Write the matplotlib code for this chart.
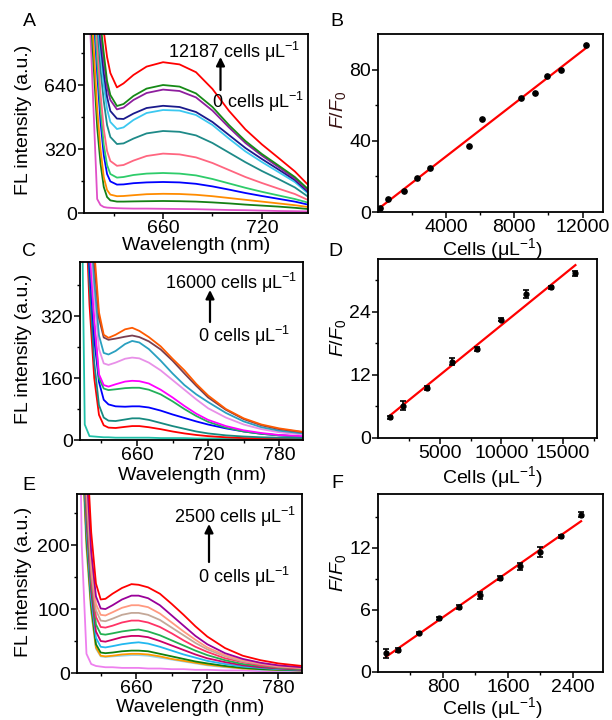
import matplotlib
matplotlib.use("Agg")
import matplotlib.pyplot as plt
import numpy as np
from matplotlib.ticker import FixedLocator

plt.rcParams['font.family'] = ['Liberation Sans', 'DejaVu Sans']
plt.rcParams['mathtext.fontset'] = 'custom'
plt.rcParams['mathtext.rm'] = 'Liberation Sans'
plt.rcParams['mathtext.it'] = 'Liberation Sans:italic'
plt.rcParams['mathtext.bf'] = 'Liberation Sans:bold'

# ---------------- Panel A spectra ----------------
wl_a = [612, 616, 620, 622, 624, 626, 628, 632, 636, 642, 650, 660, 670, 680, 690, 700, 710, 720, 730, 740, 748]
spec_a = [
    [2500, 1800, 1250, 1050, 910, 780, 700, 628, 648, 690, 732, 754, 743, 704, 620, 511, 418, 343, 276, 208, 141],
    [2400, 1700, 1150, 950, 800, 660, 590, 535, 545, 585, 622, 640, 632, 598, 530, 440, 360, 295, 238, 180, 120],
    [2350, 1650, 1100, 900, 760, 630, 565, 518, 527, 565, 600, 617, 610, 578, 512, 428, 350, 287, 230, 172, 112],
    [2300, 1600, 1050, 850, 700, 580, 510, 472, 470, 497, 525, 536, 530, 505, 455, 390, 325, 270, 218, 165, 105],
    [2250, 1550, 1000, 800, 640, 520, 455, 420, 428, 465, 500, 515, 512, 490, 440, 372, 308, 255, 205, 155, 98],
    [2200, 1500, 950, 720, 560, 440, 380, 345, 348, 372, 398, 410, 406, 388, 350, 302, 254, 210, 170, 128, 82],
    [2100, 1400, 850, 600, 420, 310, 260, 236, 240, 262, 285, 297, 293, 278, 250, 215, 180, 150, 122, 95, 65],
    [2000, 1300, 760, 520, 340, 240, 195, 177, 180, 190, 197, 200, 197, 188, 170, 148, 126, 106, 88, 70, 52],
    [1950, 1250, 700, 460, 290, 195, 158, 142, 143, 149, 153, 155, 153, 146, 133, 117, 100, 85, 71, 57, 42],
    [1850, 1100, 520, 320, 180, 115, 92, 84, 85, 89, 94, 96, 95, 91, 84, 75, 66, 57, 48, 39, 30],
    [1800, 1000, 430, 250, 130, 80, 63, 57, 57, 58, 59, 60, 59, 57, 53, 48, 42, 37, 32, 26, 20],
    [1800, 880, 70, 40, 30, 27, 26, 24, 23, 22, 22, 21, 20, 19, 17, 15, 14, 12, 10, 9, 8],
]
colors_a = ['#FF0000', '#168A16', '#8E1E9E', '#1A1A8C', '#3CC8F0', '#1E8A88',
            '#FF6680', '#2ECC6A', '#0000FF', '#FF8C00', '#158015', '#E050C8']

# ---------------- Panel B calibration ----------------
cells_b = [120, 590, 1530, 2275, 3040, 5350, 6100, 8410, 9200, 9940, 10745, 12187]
ratio_b = [2.4, 7.1, 11.6, 18.9, 24.5, 36.9, 52.2, 64.2, 66.9, 76.6, 79.8, 93.6]

# ---------------- Panel C spectra ----------------
wl_c = [612, 616, 620, 624, 628, 632, 636, 642, 650, 656, 662, 670, 680, 690, 700, 710, 720, 735, 750, 765, 780, 800]
spec_c = [
    [1400, 1000, 700, 490, 330, 272, 264, 272, 286, 290, 282, 266, 242, 210, 180, 145, 115, 80, 56, 40, 30, 21],
    [1350, 950, 650, 460, 315, 265, 259, 262, 267, 270, 266, 255, 234, 205, 172, 140, 110, 78, 54, 38, 28, 20],
    [1300, 900, 600, 410, 270, 225, 221, 230, 248, 256, 252, 235, 205, 172, 142, 118, 98, 70, 48, 33, 24, 17],
    [1250, 850, 560, 370, 235, 198, 194, 200, 210, 213, 211, 200, 180, 155, 130, 105, 82, 58, 40, 28, 20, 14],
    [1200, 800, 500, 310, 170, 142, 138, 144, 151, 153, 152, 146, 130, 110, 88, 68, 52, 36, 25, 18, 13, 10],
    [1200, 800, 490, 300, 160, 133, 129, 131, 134, 135, 135, 130, 118, 100, 80, 62, 47, 32, 22, 16, 12, 9],
    [1150, 750, 450, 260, 150, 104, 92, 87, 86, 87, 87, 84, 76, 66, 57, 48, 40, 30, 22, 16, 12, 9],
    [1100, 700, 400, 200, 90, 58, 50, 49, 53, 56, 56, 52, 44, 36, 29, 22, 17, 12, 9, 7, 6, 5],
    [1050, 650, 350, 160, 65, 38, 32, 31, 34, 36, 36, 33, 28, 22, 17, 13, 10, 7, 5, 4, 3, 3],
    [1000, 40, 10, 9, 8, 7, 7, 6, 6, 6, 6, 6, 5, 5, 5, 4, 4, 4, 3, 3, 3, 3],
]
colors_c = ['#FF5A00', '#7A3F50', '#2AA0C0', '#E890E8', '#FF00FF',
            '#22B05A', '#0000FF', '#178A80', '#FF0000', '#22C0A8']

# ---------------- Panel D calibration ----------------
cells_d = [1000, 2000, 4000, 6000, 8000, 10000, 12000, 14000, 16000]
ratio_d = [3.9, 6.1, 9.5, 14.5, 16.9, 22.5, 27.3, 28.6, 31.3]
err_d = [0.3, 0.85, 0.4, 0.7, 0.3, 0.3, 0.8, 0.3, 0.5]

# ---------------- Panel E spectra ----------------
wl_e = [610, 614, 618, 622, 626, 630, 634, 640, 648, 656, 662, 670, 680, 690, 700, 710, 720, 735, 750, 765, 780, 800]
spec_e = [
    [900, 560, 360, 220, 140, 115, 116, 124, 133, 139, 138, 134, 124, 108, 91, 73, 57, 39, 27, 20, 15, 11],
    [850, 520, 320, 190, 120, 101, 100, 106, 115, 121, 121, 117, 106, 90, 74, 58, 45, 31, 22, 16, 12, 9],
    [830, 500, 300, 175, 108, 91, 90, 95, 102, 106, 106, 103, 93, 79, 65, 52, 40, 28, 20, 15, 11, 8],
    [810, 480, 285, 160, 98, 82, 81, 85, 91, 94, 94, 91, 83, 71, 59, 47, 37, 26, 18, 14, 10, 8],
    [790, 460, 270, 150, 88, 72, 71, 74, 79, 82, 82, 79, 72, 62, 51, 41, 33, 23, 17, 12, 9, 7],
    [770, 440, 255, 140, 76, 61, 60, 62, 65, 67, 68, 65, 59, 51, 43, 35, 28, 20, 14, 11, 8, 6],
    [750, 420, 240, 128, 65, 50, 49, 52, 56, 58, 58, 56, 50, 43, 36, 29, 23, 17, 12, 9, 7, 5],
    [730, 400, 225, 115, 55, 41, 40, 42, 45, 47, 48, 46, 41, 35, 29, 24, 19, 14, 10, 8, 6, 5],
    [710, 380, 210, 105, 45, 32, 31, 32, 34, 35, 35, 34, 30, 26, 22, 18, 15, 11, 8, 6, 5, 4],
    [700, 370, 200, 98, 40, 27, 26, 27, 29, 30, 30, 29, 26, 22, 19, 16, 13, 10, 7, 6, 5, 4],
    [690, 360, 195, 95, 38, 26, 25, 26, 27, 28, 28, 27, 24, 21, 18, 15, 12, 9, 7, 5, 4, 4],
    [700, 200, 30, 14, 11, 10, 9, 9, 8, 8, 8, 7, 7, 6, 6, 5, 5, 4, 4, 3, 3, 3],
]
colors_e = ['#FF0000', '#990099', '#FF9980', '#C4A898', '#FF3366', '#22B050',
            '#CC0066', '#22B8F0', '#108010', '#FF9900', '#9AD4EE', '#EE80EE']

# ---------------- Panel F calibration ----------------
cells_f = [100, 250, 500, 750, 1000, 1250, 1500, 1750, 2000, 2250, 2500]
ratio_f = [1.8, 2.1, 3.8, 5.2, 6.3, 7.4, 9.1, 10.2, 11.6, 13.1, 15.2]
err_f = [0.4, 0.2, 0.1, 0.15, 0.2, 0.35, 0.2, 0.35, 0.47, 0.15, 0.25]

# ------------------------------------------------------------
W, H = 612, 720
fig = plt.figure(figsize=(W / 100, H / 100), dpi=100)

TICK_FS = 14
LABEL_FS = 14
ANN_FS = 13


def add_ax(l, r, t, b):
    return fig.add_axes([l / W, 1 - b / H, (r - l) / W, (b - t) / H])


def style(ax):
    for s in ax.spines.values():
        s.set_linewidth(1.3)
    ax.tick_params(which='major', direction='out', length=4, width=1.1, labelsize=TICK_FS, pad=1,
                   top=False, right=False)
    ax.tick_params(which='minor', direction='out', length=2.5, width=1.0, top=False, right=False)


def ftext(x, y, s, **kw):
    fig.text(x / W, 1 - y / H, s, **kw)


def arrow(x, y0, y1):
    fig.patches.append(matplotlib.patches.FancyArrowPatch(
        (x / W, 1 - y0 / H), (x / W, 1 - y1 / H), transform=fig.transFigure,
        arrowstyle='-|>,head_length=5,head_width=2.5', color='black', lw=1.6, shrinkA=0, shrinkB=0))


def spectra(ax, wl, spec, cols):
    for vals, c in reversed(list(zip(spec, cols))):
        ax.plot(wl, vals, color=c, lw=1.3)


def calib(ax, x, y, err=None):
    coef = np.polyfit(x, y, 1)
    xs = np.array([x[0], x[-1]])
    ax.plot(xs, np.polyval(coef, xs), color='#FF0000', lw=1.6, zorder=2)
    if err is None:
        ax.plot(x, y, 'o', color='black', ms=3.8, zorder=3)
    else:
        ax.errorbar(x, y, yerr=err, fmt='o', color='black', ms=3.5, capsize=2.5,
                    elinewidth=1.2, capthick=1.2, zorder=3)


# Panel A
axA = add_ax(84, 308, 34, 213)
spectra(axA, wl_a, spec_a, colors_a)
axA.set_xlim(612, 748)
axA.set_ylim(0, 895)
axA.xaxis.set_major_locator(FixedLocator([660, 720]))
axA.xaxis.set_minor_locator(FixedLocator([630, 690]))
axA.yaxis.set_major_locator(FixedLocator([0, 320, 640]))
axA.yaxis.set_minor_locator(FixedLocator([160, 480, 800]))
style(axA)

# Panel B
axB = add_ax(378, 603, 34, 212)
calib(axB, cells_b, ratio_b)
axB.set_xlim(0, 13200)
axB.set_ylim(0, 100)
axB.xaxis.set_major_locator(FixedLocator([4000, 8000, 12000]))
axB.xaxis.set_minor_locator(FixedLocator([2000, 6000, 10000]))
axB.yaxis.set_major_locator(FixedLocator([0, 40, 80]))
axB.yaxis.set_minor_locator(FixedLocator([20, 60]))
style(axB)

# Panel C
axC = add_ax(80, 303, 262, 440)
spectra(axC, wl_c, spec_c, colors_c)
axC.set_xlim(612, 800)
axC.set_ylim(0, 460)
axC.xaxis.set_major_locator(FixedLocator([660, 720, 780]))
axC.xaxis.set_minor_locator(FixedLocator([630, 690, 750]))
axC.yaxis.set_major_locator(FixedLocator([0, 160, 320]))
axC.yaxis.set_minor_locator(FixedLocator([80, 240, 400]))
style(axC)

# Panel D
axD = add_ax(378, 597, 259, 438)
calib(axD, cells_d, ratio_d, err_d)
axD.set_xlim(0, 17750)
axD.set_ylim(0, 34)
axD.xaxis.set_major_locator(FixedLocator([5000, 10000, 15000]))
axD.xaxis.set_minor_locator(FixedLocator([2500, 7500, 12500, 17500]))
axD.yaxis.set_major_locator(FixedLocator([0, 12, 24]))
axD.yaxis.set_minor_locator(FixedLocator([6, 18, 30]))
style(axD)

# Panel E
axE = add_ax(77, 302, 494, 673)
spectra(axE, wl_e, spec_e, colors_e)
axE.set_xlim(610, 800)
axE.set_ylim(0, 280)
axE.xaxis.set_major_locator(FixedLocator([660, 720, 780]))
axE.xaxis.set_minor_locator(FixedLocator([630, 690, 750]))
axE.yaxis.set_major_locator(FixedLocator([0, 100, 200]))
axE.yaxis.set_minor_locator(FixedLocator([50, 150, 250]))
style(axE)

# Panel F
axF = add_ax(378, 603, 494, 672)
calib(axF, cells_f, ratio_f, err_f)
axF.set_xlim(0, 2770)
axF.set_ylim(0, 17.2)
axF.xaxis.set_major_locator(FixedLocator([800, 1600, 2400]))
axF.xaxis.set_minor_locator(FixedLocator([400, 1200, 2000]))
axF.yaxis.set_major_locator(FixedLocator([0, 6, 12]))
axF.yaxis.set_minor_locator(FixedLocator([3, 9, 15]))
style(axF)

# Axis titles
lab = dict(ha='center', va='center', fontsize=LABEL_FS)
for y in (120, 349, 582):
    ftext(24, y, 'FL intensity (a.u.)', rotation=90, **lab)
ftext(196, 246, 'Wavelength (nm)', **lab)
ftext(192, 476, 'Wavelength (nm)', **lab)
ftext(190, 708, 'Wavelength (nm)', **lab)
ftext(492, 249, 'Cells (μL$^{-1}$)', **lab)
ftext(492, 477, 'Cells (μL$^{-1}$)', **lab)
ftext(492, 708, 'Cells (μL$^{-1}$)', **lab)
ftext(338, 110, r'$\mathit{F/F}_{\mathit{0}}$', rotation=90, color='#3A1414', **lab)
ftext(338, 338, r'$\mathit{F/F}_{\mathit{0}}$', rotation=90, **lab)
ftext(338, 573, r'$\mathit{F/F}_{\mathit{0}}$', rotation=90, **lab)

# Panel letters
for x, y, s in [(29, 22, 'A'), (337, 22, 'B'), (29, 252, 'C'), (335, 252, 'D'),
                (29, 485, 'E'), (337, 483, 'F')]:
    ftext(x, y, s, ha='center', va='center', fontsize=14)

# Concentration annotations
ann = dict(ha='center', va='center', fontsize=ANN_FS)
ftext(234, 52, '12187 cells μL$^{-1}$', **ann)
ftext(258, 102, '0 cells μL$^{-1}$', **ann)
arrow(220.5, 90, 57)
ftext(231, 283, '16000 cells μL$^{-1}$', **ann)
ftext(244, 336, '0 cells μL$^{-1}$', **ann)
arrow(210, 322, 290)
ftext(235, 517, '2500 cells μL$^{-1}$', **ann)
ftext(244, 577, '0 cells μL$^{-1}$', **ann)
arrow(209, 562, 524)

fig.savefig('out.png', dpi=100)
